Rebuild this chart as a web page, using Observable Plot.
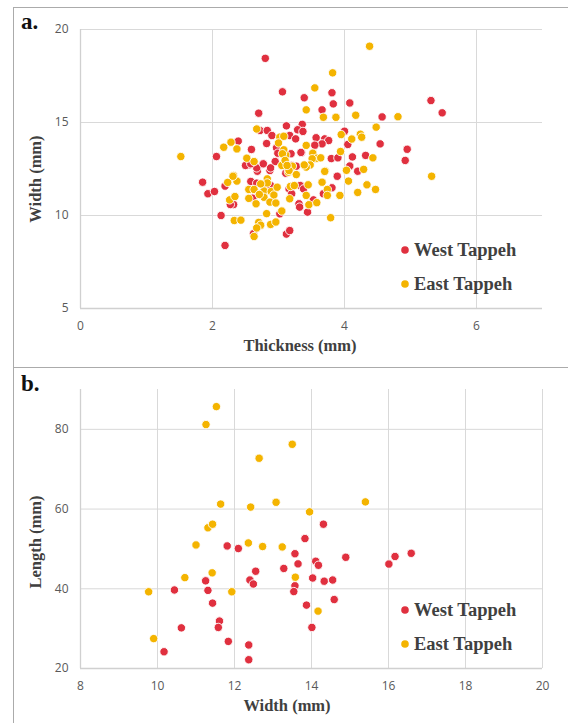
<!DOCTYPE html>
<html><head><meta charset="utf-8">
<script src="https://cdn.jsdelivr.net/npm/d3@7"></script>
<script src="https://cdn.jsdelivr.net/npm/@observablehq/plot@0.6"></script>
<style>
html,body{margin:0;padding:0;background:#fff;}
#page{position:relative;width:568px;height:723px;overflow:hidden;}
.panel{position:absolute;box-sizing:border-box;border:1.4px solid #ababab;}
#pa{left:13px;top:6.5px;width:600px;height:361px;}
#pb{left:13px;top:366.5px;width:600px;height:400px;}
.chart{position:absolute;left:0;}
#ca{top:7px} #cb{top:367px}
#overlay{position:absolute;left:0;top:0;}
</style></head><body>
<div id="page">
<div class="panel" id="pa"></div>
<div class="panel" id="pb"></div>
<div class="chart" id="ca"></div>
<div class="chart" id="cb"></div>
<svg id="overlay" width="568" height="723"></svg>
</div>
<script>
// ---- data ----
const seriesNames = ["West Tappeh", "East Tappeh"];
const seriesColors = ["#E0303F", "#F4B400"];

// panel a: [thickness mm, width mm]
const westA = [[2.80,18.45],[3.06,16.65],[2.70,15.5],[2.72,14.57],[2.83,14.57],[2.90,14.3],[2.39,14.0],[2.59,13.55],[2.82,13.87],[2.06,13.17],[2.55,12.72],[2.76,12.75],[2.68,12.38],[2.87,12.42],[2.97,13.64],[2.99,13.35],[2.95,12.9],[3.39,16.33],[3.83,16.0],[4.08,16.05],[5.31,16.18],[5.48,15.52],[3.66,15.68],[3.81,16.6],[4.57,15.3],[3.12,14.82],[3.36,14.9],[3.29,14.61],[3.37,14.52],[3.17,14.3],[3.26,14.12],[4.0,14.53],[3.57,14.18],[3.70,14.12],[3.76,14.03],[3.66,13.85],[3.55,13.78],[4.05,13.82],[4.54,13.85],[4.95,13.56],[4.92,12.96],[3.35,13.37],[3.19,13.32],[4.12,13.15],[4.32,13.23],[3.80,13.06],[3.90,13.1],[4.08,12.66],[3.27,12.65],[3.20,12.69],[4.20,12.38],[3.89,12.11],[3.53,13.05],[2.50,12.69],[2.67,12.56],[2.88,12.56],[2.77,12.78],[2.58,12.78],[1.85,11.79],[1.93,11.17],[2.03,11.29],[2.13,10.0],[2.19,8.39],[2.19,11.58],[2.32,10.59],[2.27,10.59],[2.61,10.93],[2.62,9.02],[3.12,9.0],[3.17,9.19],[2.58,11.83],[2.67,11.74],[2.82,11.61],[2.88,11.61],[3.02,10.09],[3.11,12.27],[3.16,11.43],[3.33,11.61],[3.20,11.17],[3.38,11.43],[3.53,10.84],[3.31,10.63],[3.32,10.45],[3.44,10.18],[3.81,11.49],[3.68,11.17],[3.34,13.39]];
const eastA = [[1.52,13.17],[2.67,14.65],[3.02,14.21],[3.08,14.26],[2.17,13.67],[2.28,13.94],[2.37,13.58],[2.52,13.08],[2.63,12.9],[3.05,12.69],[2.32,12.15],[2.83,11.97],[4.38,19.1],[3.82,17.67],[3.55,16.86],[3.42,15.68],[3.68,15.28],[3.87,15.28],[4.17,15.39],[4.81,15.31],[4.48,14.75],[3.95,14.35],[4.24,14.37],[4.26,14.21],[4.11,14.11],[3.42,13.77],[3.94,13.44],[3.52,13.35],[3.58,13.08],[3.11,13.26],[4.43,13.1],[3.51,13.05],[3.48,12.72],[3.42,12.6],[3.21,12.65],[3.71,12.4],[4.03,12.43],[4.29,12.48],[5.32,12.11],[3.15,12.33],[3.27,12.2],[2.23,11.78],[2.26,10.84],[2.34,11.02],[2.33,9.73],[2.43,9.75],[2.37,11.85],[2.55,11.4],[2.63,11.4],[2.55,10.92],[2.66,10.63],[2.72,11.17],[2.78,11.32],[2.78,10.98],[2.83,11.75],[2.89,11.29],[2.93,11.1],[2.87,10.72],[2.96,10.67],[2.82,10.1],[2.70,9.63],[2.73,9.48],[2.67,9.33],[2.63,8.87],[2.88,9.52],[2.96,9.65],[3.05,10.24],[2.31,12.11],[2.73,11.7],[2.98,11.52],[2.71,11.13],[3.16,12.42],[3.18,11.56],[3.24,11.61],[3.45,11.65],[3.42,11.08],[3.17,10.9],[3.46,10.58],[3.58,10.69],[4.06,11.85],[4.34,11.65],[4.47,11.4],[4.20,11.24],[3.93,11.08],[3.74,11.4],[3.74,11.08],[3.66,11.79],[3.70,12.37],[3.79,9.88],[3.00,13.9],[3.08,13.53],[3.06,13.32],[3.10,12.96],[3.13,12.69],[3.39,12.72],[3.64,13.1]];

// panel b: [width mm, length mm]
const westB = [[14.31,56.2],[13.83,52.6],[11.81,50.75],[12.10,50.1],[13.28,45.1],[12.55,44.4],[12.40,42.2],[12.49,41.2],[11.25,42.0],[10.44,39.7],[11.31,39.6],[11.43,36.4],[11.61,31.9],[11.58,30.3],[10.62,30.2],[11.84,26.8],[12.37,25.9],[10.17,24.2],[12.37,22.2],[13.57,48.8],[13.65,46.25],[14.11,46.9],[14.18,45.9],[14.89,47.9],[16.01,46.2],[16.17,48.1],[16.59,48.9],[14.03,42.7],[14.33,41.9],[14.55,42.2],[13.57,40.75],[13.54,39.3],[14.59,37.3],[13.87,35.9],[14.01,30.3]];
const eastB = [[11.53,85.7],[11.26,81.2],[12.64,72.75],[13.50,76.25],[11.64,61.25],[12.42,60.5],[13.08,61.7],[15.40,61.8],[13.95,59.3],[11.31,55.3],[11.43,56.2],[11.00,51.0],[12.36,51.5],[12.73,50.6],[13.24,50.5],[11.42,44.0],[10.71,42.8],[9.77,39.25],[11.93,39.25],[9.90,27.5],[13.58,42.9],[14.17,34.4]];

// ticks
const xTicksA = [0, 2, 4, 6];
const yTicksA = [5, 10, 15, 20];
const xTicksB = [8, 10, 12, 14, 16, 18, 20];
const yTicksB = [20, 40, 60, 80];

const gridColor = "#d9d9d9";
const axisColor = "#d0d0d0";

function panel({west, east, xDomain, yDomain, xTicks, yTicks, xGrid, yGrid, height, marginBottom}) {
  return Plot.plot({
    width: 568,
    height,
    marginLeft: 80,
    marginRight: 26,
    marginTop: 22,
    marginBottom,
    style: {fontFamily: "'Open Sans', sans-serif", fontSize: "12px", color: "#595959", background: "transparent"},
    x: {domain: xDomain},
    y: {domain: yDomain},
    marks: [
      Plot.gridX(xGrid, {stroke: gridColor, strokeOpacity: 1, strokeWidth: 1}),
      Plot.gridY(yGrid, {stroke: gridColor, strokeOpacity: 1, strokeWidth: 1}),
      Plot.ruleX([xDomain[0]], {stroke: axisColor, strokeWidth: 1.3}),
      Plot.ruleY([yDomain[0]], {stroke: axisColor, strokeWidth: 1.3}),
      Plot.axisX(xTicks, {tickSize: 0, tickPadding: 13, label: null}),
      Plot.axisY(yTicks, {tickSize: 0, tickPadding: 12, label: null}),
      Plot.dot(west, {x: d => d[0], y: d => d[1], r: 4.2, fill: seriesColors[0], stroke: "white", strokeWidth: 0.9}),
      Plot.dot(east, {x: d => d[0], y: d => d[1], r: 4.2, fill: seriesColors[1], stroke: "white", strokeWidth: 0.9})
    ]
  });
}

document.getElementById("ca").append(panel({
  west: westA, east: eastA, xDomain: [0, 7], yDomain: [5, 20],
  xTicks: xTicksA, yTicks: yTicksA, xGrid: [2, 4, 6], yGrid: [10, 15, 20],
  height: 360, marginBottom: 59
}));
document.getElementById("cb").append(panel({
  west: westB, east: eastB, xDomain: [8, 20], yDomain: [20, 90],
  xTicks: xTicksB, yTicks: yTicksB, xGrid: [10, 12, 14, 16, 18, 20], yGrid: [40, 60, 80],
  height: 356, marginBottom: 55
}));

// ---- overlay texts: panel letters, axis titles, legends ----
const ov = d3.select("#overlay");
const serif = "'Liberation Serif', 'Times New Roman', serif";
function txt(x, y, s, opts = {}) {
  const t = ov.append("text").attr("x", x).attr("y", y).text(s)
    .attr("font-family", serif).attr("font-weight", "bold")
    .attr("font-size", opts.size || 16.5).attr("fill", opts.fill || "#404040")
    .attr("text-anchor", opts.anchor || "start");
  if (opts.rotate) t.attr("transform", `rotate(-90 ${x} ${y})`);
  return t;
}
txt(21, 29, "a.", {size: 23, fill: "#111"});
txt(21, 391, "b.", {size: 23, fill: "#111"});
txt(300, 351, "Thickness (mm)", {anchor: "middle"});
txt(287, 711, "Width (mm)", {anchor: "middle"});
txt(41, 179, "Width (mm)", {anchor: "middle", rotate: true});
txt(41, 542, "Length (mm)", {anchor: "middle", rotate: true});

function legend(y0) {
  seriesNames.forEach((name, i) => {
    const cy = y0 + i * 34;
    ov.append("circle").attr("cx", 405).attr("cy", cy).attr("r", 3.8).attr("fill", seriesColors[i]);
    txt(414, cy + 6, name, {size: 18.5});
  });
}
legend(250);
legend(610);
</script>
</body></html>
